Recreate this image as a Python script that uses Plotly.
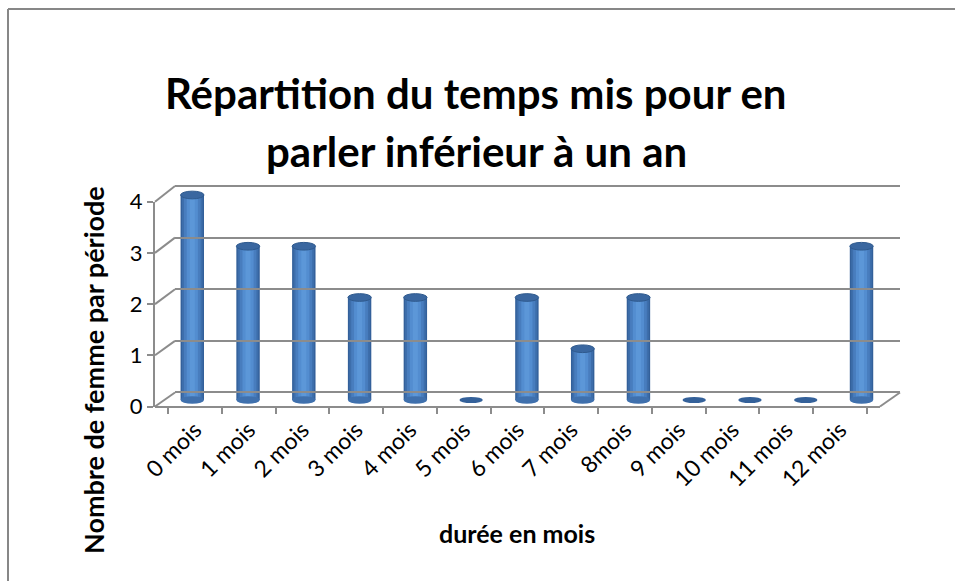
import plotly.graph_objects as go

categories = ["0 mois", "1 mois", "2 mois", "3 mois", "4 mois", "5 mois", "6 mois",
              "7 mois", "8mois", "9 mois", "10 mois", "11 mois", "12 mois"]
values = [4, 3, 3, 2, 2, 0, 2, 1, 2, 0, 0, 0, 3]
y_ticks = [0, 1, 2, 3, 4]

title_lines = ["Répartition du temps mis pour en", "parler inférieur à un an"]
y_title = "Nombre de femme par période"
x_title = "durée en mois"

W, H = 955, 581
FONT = "Lato"
GRID = "#8c8c8c"
Y_LO, Y_HI = -0.1, 4.1

def px_x(v):
    return v / W

def px_y(v):
    return (H - v) / H

# pixel geometry of the pseudo-3D box (pixel y of value 0 and value 4)
front = dict(x0=155, x1=880, y0=406.5, y4=201.7)
mid = dict(x0=164.4, x1=889.4, y0=400.0, y4=195.0)
back = dict(x0=175, x1=900, y0=392.5, y4=186.0)

def ydom(d):
    per = (d["y0"] - d["y4"]) / 4.0
    bottom = d["y0"] - (Y_LO) * per
    top = d["y0"] - (Y_HI) * per
    return [px_y(bottom), px_y(top)]

idx = list(range(len(categories)))
fig = go.Figure()

# cylinder bodies: layered bars (dark edge -> lighter core)
for w, col in [(0.42, "#33609a"), (0.37, "#3d6eab"), (0.30, "#487dbe"), (0.20, "#538dd0"), (0.09, "#5c97d8")]:
    fig.add_trace(go.Bar(x=idx, y=values, width=w, marker=dict(color=col, line=dict(width=0)),
                         xaxis="x", yaxis="y", hoverinfo="skip", showlegend=False))

# back wall trace (invisible) to create gridlines
fig.add_trace(go.Scatter(x=idx, y=values, xaxis="x3", yaxis="y3", mode="markers",
                         marker=dict(opacity=0), hoverinfo="skip", showlegend=False))
# front axes trace (invisible) for tick labels
fig.add_trace(go.Scatter(x=categories, y=values, xaxis="x2", yaxis="y2", mode="markers",
                         marker=dict(opacity=0), hoverinfo="skip", showlegend=False))

shapes = []
# cylinder ends
ry = 0.075
for i, v in zip(idx, values):
    if v > 0:
        shapes.append(dict(type="circle", xref="x", yref="y", x0=i - 0.21, x1=i + 0.21,
                           y0=-ry, y1=ry, fillcolor="#3f70ad", line=dict(width=0), layer="above"))
        shapes.append(dict(type="circle", xref="x", yref="y", x0=i - 0.21, x1=i + 0.21,
                           y0=v - ry, y1=v + ry, fillcolor="#3a67a0",
                           line=dict(width=1, color="#2f5a8e"), layer="above"))
    else:
        shapes.append(dict(type="circle", xref="x", yref="y", x0=i - 0.21, x1=i + 0.21,
                           y0=-ry * 0.8, y1=ry * 0.8, fillcolor="#34619a",
                           line=dict(width=0), layer="above"))

# left side-wall diagonals and right floor diagonal
for t in y_ticks:
    fy = front["y0"] + (front["y4"] - front["y0"]) * t / 4
    by = back["y0"] + (back["y4"] - back["y0"]) * t / 4
    shapes.append(dict(type="line", xref="paper", yref="paper",
                       x0=px_x(front["x0"]), y0=px_y(fy), x1=px_x(back["x0"]), y1=px_y(by),
                       line=dict(color=GRID, width=2), layer="below"))
shapes.append(dict(type="line", xref="paper", yref="paper",
                   x0=px_x(front["x1"]), y0=px_y(front["y0"]), x1=px_x(back["x1"]), y1=px_y(back["y0"]),
                   line=dict(color=GRID, width=2), layer="below"))
# outer frame (top and left)
shapes.append(dict(type="line", xref="paper", yref="paper", x0=px_x(8), y0=px_y(9), x1=1, y1=px_y(9),
                   line=dict(color="#878787", width=2)))
shapes.append(dict(type="line", xref="paper", yref="paper", x0=px_x(8), y0=px_y(9), x1=px_x(8), y1=0,
                   line=dict(color="#878787", width=2)))

def cat_axis(d, **kw):
    base = dict(domain=[px_x(d["x0"]), px_x(d["x1"])], range=[-0.5, len(categories) - 0.5],
                showgrid=False, zeroline=False, fixedrange=True, automargin=False)
    base.update(kw)
    return base

def val_axis(d, **kw):
    base = dict(domain=ydom(d), range=[Y_LO, Y_HI], zeroline=False, fixedrange=True,
                automargin=False)
    base.update(kw)
    return base

fig.update_layout(
    width=W, height=H, autosize=False,
    margin=dict(l=0, r=0, t=0, b=0, pad=0, autoexpand=False),
    paper_bgcolor="white", plot_bgcolor="rgba(0,0,0,0)",
    barmode="overlay",
    font=dict(family=FONT, color="black"),
    showlegend=False,
    xaxis=cat_axis(mid, showticklabels=False, anchor="y", type="linear"),
    yaxis=val_axis(mid, showticklabels=False, showgrid=False, anchor="x"),
    xaxis3=cat_axis(back, showticklabels=False, anchor="y3", type="linear"),
    yaxis3=val_axis(back, showticklabels=False, showgrid=True, gridcolor=GRID, gridwidth=2,
                    tickvals=y_ticks, anchor="x3"),
    xaxis2=dict(domain=[px_x(front["x0"]), px_x(front["x1"])], type="category",
                categoryorder="array", categoryarray=categories,
                showline=True, linecolor=GRID, linewidth=2, ticks="outside", tickson="boundaries",
                ticklen=6, tickwidth=2, tickcolor=GRID, tickangle=-45,
                tickfont=dict(family=FONT, size=23, color="black"),
                showgrid=False, zeroline=False, anchor="free", position=px_y(front["y0"]),
                fixedrange=True, automargin=False),
    yaxis2=dict(domain=[px_y(front["y0"]), px_y(front["y4"])], range=[0, 4], zeroline=False,
                fixedrange=True, showline=True, linecolor=GRID, linewidth=2, ticks="outside",
                ticklen=6, tickwidth=2, tickcolor=GRID, tickvals=y_ticks,
                tickfont=dict(family=FONT, size=22, color="black"), showgrid=False,
                anchor="x2", automargin=False),
    shapes=shapes,
    annotations=[
        dict(text="<b>" + title_lines[0] + "</b>", xref="paper", yref="paper", x=px_x(476), y=px_y(93),
             xanchor="center", yanchor="middle", showarrow=False,
             font=dict(family=FONT, size=42, color="black")),
        dict(text="<b>" + title_lines[1] + "</b>", xref="paper", yref="paper", x=px_x(476), y=px_y(151),
             xanchor="center", yanchor="middle", showarrow=False,
             font=dict(family=FONT, size=42, color="black")),
        dict(text="<b>" + y_title + "</b>", xref="paper", yref="paper", x=px_x(93), y=px_y(370),
             xanchor="center", yanchor="middle", textangle=-90, showarrow=False,
             font=dict(family=FONT, size=27, color="black")),
        dict(text="<b>" + x_title + "</b>", xref="paper", yref="paper", x=px_x(517), y=px_y(533),
             xanchor="center", yanchor="middle", showarrow=False,
             font=dict(family=FONT, size=25, color="black")),
    ],
)

fig.write_html("out.html", config={"displayModeBar": False},
               post_script="document.body.style.margin='0';document.body.style.overflow='hidden';")
